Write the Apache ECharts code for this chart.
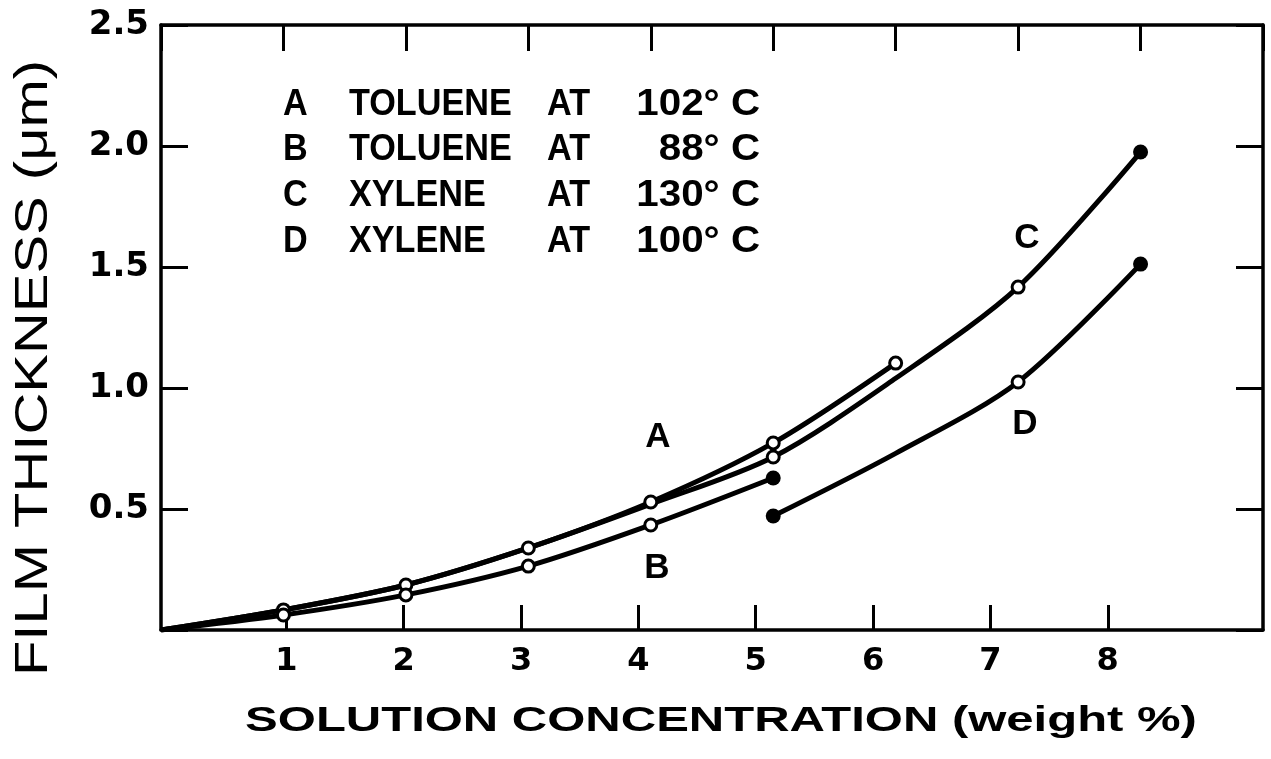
<!DOCTYPE html>
<html>
<head>
<meta charset="utf-8">
<script src="https://cdn.jsdelivr.net/npm/echarts@6/dist/echarts.min.js"></script>
<style>
  html, body { margin: 0; padding: 0; background: #fff; }
  #chart { width: 1271px; height: 759px; }
</style>
</head>
<body>
<div id="chart"></div>
<script>
// Film thickness vs. solution concentration, four solvent/temperature runs.
const concA = [0, 1, 2, 3, 4, 5, 6];
const thickA = [0.0, 0.083, 0.186, 0.339, 0.529, 0.773, 1.103];
const markA = ['', 'o', 'o', 'o', 'o', 'o', 'o'];

const concB = [0, 1, 2, 3, 4, 5];
const thickB = [0.0, 0.062, 0.145, 0.264, 0.434, 0.628];
const markB = ['', 'o', 'o', 'o', 'o', 'f'];

const concC = [0, 1, 2, 3, 4, 5, 6, 7, 8];
const thickC = [0.0, 0.083, 0.186, 0.339, 0.52, 0.715, 1.04, 1.417, 1.975];
const markC = ['', '', '', '', '', 'o', '', 'o', 'f'];

const concD = [5, 6, 7, 8];
const thickD = [0.471, 0.73, 1.025, 1.512];
const markD = ['f', '', 'o', 'f'];

const curveNames = ['A', 'B', 'C', 'D'];
const solvents = ['TOLUENE', 'TOLUENE', 'XYLENE', 'XYLENE'];
const temps = ['102° C', '88° C', '130° C', '100° C'];

const xTickValues = [1, 2, 3, 4, 5, 6, 7, 8];
const xTickLabels = ['1', '2', '3', '4', '5', '6', '7', '8'];
const yTickLabels = ['0.5', '1.0', '1.5', '2.0', '2.5'];

const INK = '#000';
const LETTER = '"Liberation Sans", Arial, sans-serif';
const DIGIT = '"DejaVu Sans", "Liberation Sans", sans-serif';

function buildPoints(xs, ys, marks) {
  return xs.map(function (x, i) {
    const m = marks[i];
    const pt = { value: [x, ys[i]] };
    if (m === 'o') {
      pt.symbol = 'circle';
      pt.symbolSize = 12;
      pt.itemStyle = { color: '#fff', borderColor: INK, borderWidth: 3 };
    } else if (m === 'f') {
      pt.symbol = 'circle';
      pt.symbolSize = 15;
      pt.itemStyle = { color: INK, borderColor: INK, borderWidth: 0 };
    } else {
      pt.symbol = 'none';
    }
    return pt;
  });
}

function curve(name, xs, ys, marks) {
  return {
    name: name,
    type: 'line',
    xAxisIndex: 1,
    yAxisIndex: 0,
    smooth: 0.3,
    showAllSymbol: true,
    lineStyle: { color: INK, width: 5 },
    itemStyle: { color: INK },
    emphasis: { disabled: true },
    animation: false,
    data: buildPoints(xs, ys, marks)
  };
}

const axisLine = { show: true, onZero: false, lineStyle: { color: INK, width: 3.5 } };

function txt(x, y, text, font, align, extra) {
  const el = { type: 'text', x: x, y: y,
    style: { text: text, font: font, fill: INK, align: align, verticalAlign: 'middle',
      textAlign: align, textVerticalAlign: 'middle' } };
  return Object.assign(el, extra || {});
}

// Legend block drawn as plain text columns
const legendTexts = [];
const rowY = [105, 150, 196, 242];
const legendFont = 'bold 36px ' + LETTER;
curveNames.forEach(function (n, i) {
  legendTexts.push(txt(283, rowY[i], n, legendFont, 'left', { scaleX: 0.95 }));
  legendTexts.push(txt(349, rowY[i], solvents[i], legendFont, 'left', { scaleX: 0.95 }));
  legendTexts.push(txt(547, rowY[i], 'AT', legendFont, 'left', { scaleX: 0.95 }));
  legendTexts.push(txt(760, rowY[i], temps[i], legendFont, 'right', { scaleX: 1.12 }));
});

// Letters beside each curve
const curveLetterPos = [[658, 437], [657, 568], [1027, 238], [1025, 424]];
const curveLetters = curveNames.map(function (n, i) {
  return txt(curveLetterPos[i][0], curveLetterPos[i][1], n, 'bold 35px ' + LETTER, 'center');
});

const titles = [
  txt(721, 721, 'SOLUTION CONCENTRATION (weight %)', 'bold 35px ' + LETTER, 'center', { scaleX: 1.40 }),
  txt(34, 368, 'FILM THICKNESS (μm)', '46px ' + LETTER, 'center', { rotation: Math.PI / 2, scaleX: 1.26 })
];

const chart = echarts.init(document.getElementById('chart'), null, { renderer: 'canvas' });
chart.setOption({
  backgroundColor: '#fff',
  animation: false,
  grid: { left: 161, top: 25, width: 1102, height: 605, containLabel: false },
  xAxis: [
    {
      // printed concentration scale along the bottom edge
      type: 'value', position: 'bottom', min: -0.068, max: 9.323,
      axisLine: axisLine,
      axisTick: { show: true, inside: true, length: 25, customValues: xTickValues,
        lineStyle: { color: INK, width: 3 } },
      axisLabel: {
        show: true, margin: 16, color: INK, fontSize: 32, fontWeight: 'bold', fontFamily: DIGIT,
        customValues: xTickValues,
        formatter: function (v) {
          const k = xTickValues.indexOf(Math.round(v));
          return k >= 0 ? xTickLabels[k] : '';
        }
      },
      splitLine: { show: false }
    },
    {
      type: 'value', position: 'top', min: 0, max: 9, interval: 1,
      axisLine: axisLine,
      axisTick: { show: true, inside: true, length: 26, lineStyle: { color: INK, width: 3 } },
      axisLabel: { show: false },
      splitLine: { show: false }
    }
  ],
  yAxis: [
    {
      type: 'value', position: 'left', min: 0, max: 2.5, interval: 0.5,
      axisLine: axisLine,
      axisTick: { show: true, inside: true, length: 27, lineStyle: { color: INK, width: 3 } },
      axisLabel: {
        show: true, margin: 12, color: INK, fontSize: 34, fontWeight: 'bold', fontFamily: DIGIT,
        formatter: function (v) {
          const k = Math.round(v / 0.5);
          return k >= 1 ? yTickLabels[k - 1] : '';
        }
      },
      splitLine: { show: false }
    },
    {
      type: 'value', position: 'right', min: 0, max: 2.5, interval: 0.5,
      axisLine: axisLine,
      axisTick: { show: true, inside: true, length: 27, lineStyle: { color: INK, width: 3 } },
      axisLabel: { show: false },
      splitLine: { show: false }
    }
  ],
  graphic: { elements: legendTexts.concat(curveLetters, titles) },
  series: [
    curve('A', concA, thickA, markA),
    curve('B', concB, thickB, markB),
    curve('C', concC, thickC, markC),
    curve('D', concD, thickD, markD)
  ]
});
</script>
</body>
</html>
